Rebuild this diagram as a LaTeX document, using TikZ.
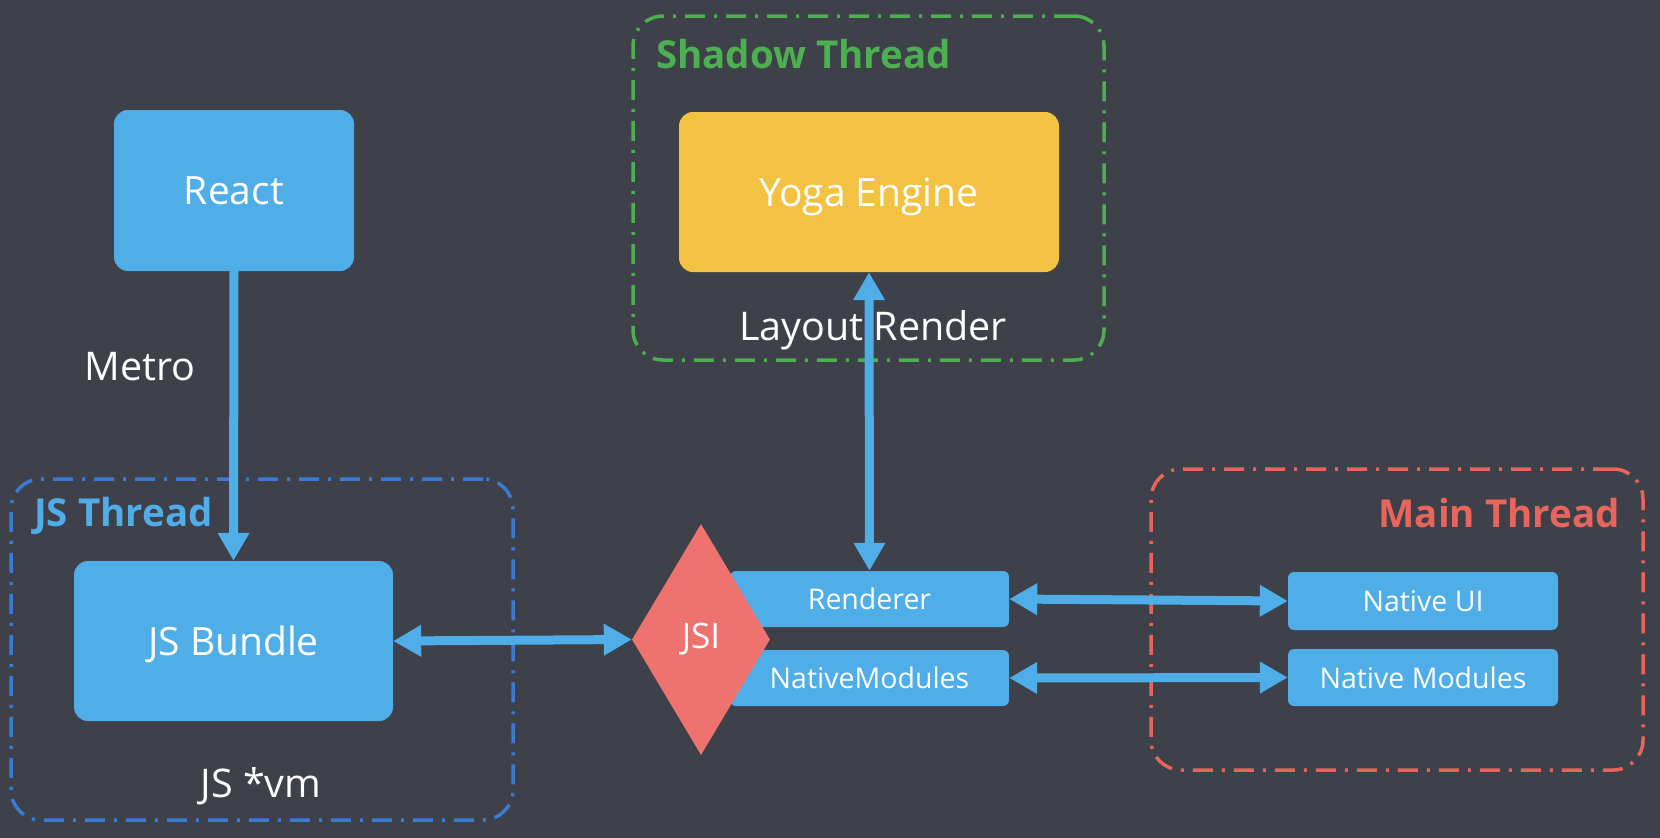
\documentclass[tikz,border=0pt]{standalone}
\usepackage{fontspec}
\setmainfont{Open Sans}
\usetikzlibrary{arrows.meta,shapes.geometric}
\definecolor{bgc}{HTML}{3E404A}
\definecolor{boxblue}{HTML}{4FADE8}
\definecolor{yogay}{HTML}{F4C242}
\definecolor{jsired}{HTML}{EE736E}
\definecolor{thgreen}{HTML}{4CAF50}
\definecolor{thred}{HTML}{E8655C}
\definecolor{thblue}{HTML}{3A7BD5}
\tikzset{
  box/.style={fill=boxblue, rounded corners=14pt, inner sep=0pt, text=white, text depth=0pt, font=\fontsize{39}{45}\selectfont},
  smallbox/.style={fill=boxblue, rounded corners=6pt, inner sep=0pt, text=white, font=\fontsize{28.5}{33}\selectfont},
  threadbox/.style={draw, line width=3.5pt, rounded corners=30pt, dash pattern=on 20pt off 9pt on 3pt off 9pt, inner sep=0pt},
  thlabel/.style={font=\fontsize{38.5}{45}\selectfont\bfseries, inner sep=0pt},
  plain/.style={text=white, font=\fontsize{39.5}{46}\selectfont, inner sep=0pt},
  conn/.style={draw=boxblue, line width=9pt, -{Triangle[length=28pt,width=30pt]}},
  dconn/.style={draw=boxblue, line width=9pt, {Triangle[length=28pt,width=30pt]}-{Triangle[length=28pt,width=30pt]}}
}
\begin{document}
\begin{tikzpicture}[x=1pt,y=-1pt]
\fill[bgc] (0,0) rectangle (1660,838);
\useasboundingbox (0,0) rectangle (1660,838);

% thread containers
\node[threadbox, draw=thgreen, minimum width=471pt, minimum height=344pt] (shadow) at (868.5,188) {};
\node[threadbox, draw=thblue, minimum width=502pt, minimum height=341pt] (jsth) at (262,649.5) {};
\node[threadbox, draw=thred, minimum width=492pt, minimum height=301pt] (mainth) at (1397,619.5) {};

\node[thlabel, text=thgreen, anchor=west] (shadowlbl) at (656,54) {Shadow Thread};
\node[thlabel, text=boxblue, anchor=west] (jslbl) at (34,516) {JS Thread};
\node[thlabel, text=thred, anchor=east] (mainlbl) at (1620,513) {Main Thread};

% boxes
\node[box, minimum width=240pt, minimum height=161pt] (react) at (234,190.5) {React};
\node[box, minimum width=319pt, minimum height=160pt] (bundle) at (233.5,641) {JS Bundle};
\node[box, fill=yogay, minimum width=380pt, minimum height=160pt] (yoga) at (869,192) {Yoga Engine};
\node[smallbox, minimum width=279pt, minimum height=56pt] (renderer) at (869.5,599) {Renderer};
\node[smallbox, minimum width=279pt, minimum height=56pt] (nmods) at (869.5,678) {NativeModules};
\node[smallbox, minimum width=270pt, minimum height=58pt] (nui) at (1423,601) {Native UI};
\node[smallbox, minimum width=270pt, minimum height=57pt] (nmods2) at (1423,677.5) {Native Modules};

% plain labels
\node[plain] (metro) at (140,367) {Metro};
\node[plain] (jsvm) at (261,786) {JS *vm};
\node[plain] (layout) at (873,330) {Layout Render};

% connectors
\draw[conn] (react.south) -- (bundle.north);
\draw[dconn] (yoga.south) -- (renderer.north);
\draw[dconn] (renderer.east) -- (nui.west);
\draw[dconn] (nmods.east) -- (nmods2.west);

% JSI diamond on top
\node[diamond, fill=jsired, inner sep=0pt, minimum width=138pt, minimum height=231pt, text=white, font=\fontsize{35}{40}\selectfont] (jsi) at (701,639.5) {JSI};
\draw[dconn] (bundle.east) -- (jsi.west);
\end{tikzpicture}
\end{document}
